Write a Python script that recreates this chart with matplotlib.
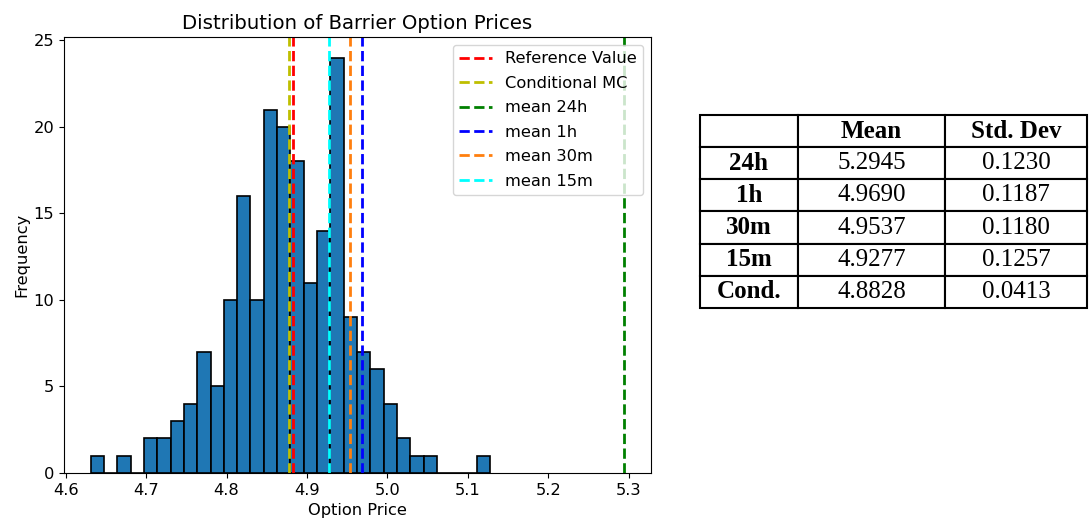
import numpy as np
import matplotlib
matplotlib.use("Agg")
import matplotlib.pyplot as plt

# histogram: 30 bins
bin_lo = 4.6312
bin_hi = 5.1277
counts = [1, 0, 1, 0, 2, 2, 3, 4, 7, 5, 10, 16, 10, 21, 20, 18, 11, 14, 24, 9,
          7, 6, 4, 2, 1, 1, 0, 0, 0, 1]

ref_value = 4.883
cond_mc = 4.878
line_labels = ['Reference Value', 'Conditional MC', 'mean 24h', 'mean 1h', 'mean 30m', 'mean 15m']
line_values = [ref_value, cond_mc, 5.2945, 4.9690, 4.9537, 4.9277]
line_colors = ['r', 'y', 'g', 'b', '#ff7f0e', 'cyan']

# summary table
row_names = ['24h', '1h', '30m', '15m', 'Cond.']
col_names = ['Mean', 'Std. Dev']
means = ['5.2945', '4.9690', '4.9537', '4.9277', '4.8828']
stds = ['0.1230', '0.1187', '0.1180', '0.1257', '0.0413']

fs = 11.7
fig = plt.figure(figsize=(10.89, 5.28), dpi=100)
ax = fig.add_axes([0.0588, 0.1042, 0.539, 0.826])

edges = np.linspace(bin_lo, bin_hi, len(counts) + 1)
ax.hist(edges[:-1], bins=edges, weights=counts, color='#1f77b4', edgecolor='black', linewidth=1.2)

for v, c, lab in zip(line_values, line_colors, line_labels):
    ax.axvline(v, color=c, linestyle='--', linewidth=2, label=lab)

ax.set_title('Distribution of Barrier Option Prices', fontsize=14.2)
ax.set_xlabel('Option Price', fontsize=fs)
ax.set_ylabel('Frequency', fontsize=fs, labelpad=3)
ax.tick_params(labelsize=fs)
ax.legend(loc='upper right', fontsize=fs, labelspacing=0.58)

# table on the right
tax = fig.add_axes([0.6428, 0.4167, 0.3554, 0.3655])
tax.axis('off')
cells = [[''] + col_names] + [[r, m, s] for r, m, s in zip(row_names, means, stds)]
tbl = tax.table(cellText=cells, cellLoc='center', bbox=[0, 0, 1, 1],
                colWidths=[0.253, 0.380, 0.367])
tbl.auto_set_font_size(False)
for (i, j), cell in tbl.get_celld().items():
    cell.set_linewidth(1.5)
    cell.get_text().set_fontfamily('Liberation Serif')
    cell.get_text().set_fontsize(18)
    if i == 0 or j == 0:
        cell.get_text().set_fontweight('bold')

fig.savefig('out.png', dpi=100)
